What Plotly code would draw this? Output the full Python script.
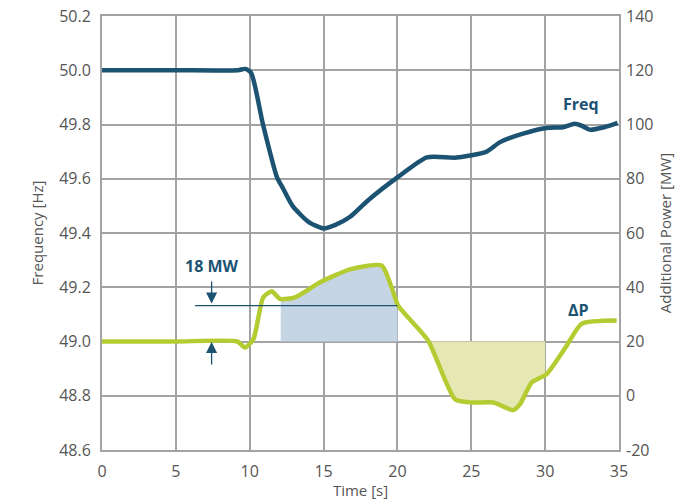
import numpy as np
import plotly.graph_objects as go

# Frequency [Hz]
freq_t = [0, 5, 9.2, 9.7, 10.1, 10.9, 11.85, 12.25, 12.9, 14.0, 15.0, 15.8, 16.8, 18.0, 20.0, 22.0, 24.0, 26.0, 26.95, 28.5, 30.1, 31.2, 32.0, 32.5, 33.0, 34.0, 34.9]
freq_v = [50.0, 50.0, 50.0, 50.005, 49.99, 49.8, 49.605, 49.565, 49.50, 49.44, 49.417, 49.43, 49.46, 49.52, 49.605, 49.679, 49.678, 49.699, 49.735, 49.766, 49.787, 49.79, 49.803, 49.795, 49.781, 49.79, 49.806]

# Additional power [MW]
dp_t = [0, 5, 9.16, 9.68, 10.25, 10.92, 11.49, 12.05, 13.07, 14.76, 16.79, 18.93, 19.6, 20.05, 22.08, 23.9, 25.0, 26.5, 27.84, 28.3, 29.09, 30.1, 31.45, 32.47, 34.84]
dp_v = [20, 20, 20, 17.8, 20.9, 36.3, 38.5, 35.7, 36.3, 41.8, 46.6, 48.0, 40.0, 33.2, 20.3, -1.3, -2.5, -2.5, -5.3, -3.1, 4.9, 8.0, 18.4, 26.5, 27.7]

x_ticks = [0, 5, 10, 15, 20, 25, 30, 35]
y_ticks = [48.6, 48.8, 49.0, 49.2, 49.4, 49.6, 49.8, 50.0, 50.2]
y_tick_labels = ["48.6", "48.8", "49.0", "49.2", "49.4", "49.6", "49.8", "50.0", "50.2"]
y2_ticks = [-20, 0, 20, 40, 60, 80, 100, 120, 140]
y2_tick_labels = ["-20", "0", "20", "40", "60", "80", "100", "120", "140"]

baseline_mw = 20
ref_mw = 33.2
blue_span = [12.1, 20.0]
yellow_span = [22.08, 30.0]

FREQ_C = "#1c5272"
DP_C = "#b5cb32"
GRID_C = "#a3a3a3"
TXT_C = "#555555"
FONT = "Open Sans"

fig = go.Figure()

def region(span):
    xs = [t for t in dp_t if span[0] < t < span[1]]
    xs = [span[0]] + xs + [span[1]]
    ys = list(np.interp(xs, dp_t, dp_v))
    px = [span[0]] + xs + [span[1]]
    py = [baseline_mw] + ys + [baseline_mw]
    return px, py

bx, by = region(blue_span)
fig.add_trace(go.Scatter(x=bx, y=by, yaxis="y2", fill="toself", mode="none",
                         fillcolor="#c5d5e4", hoverinfo="skip", showlegend=False))
yx, yy = region(yellow_span)
fig.add_trace(go.Scatter(x=yx, y=yy, yaxis="y2", fill="toself", mode="none",
                         fillcolor="#e5e8b3", hoverinfo="skip", showlegend=False))

fig.add_trace(go.Scatter(x=freq_t, y=freq_v, mode="lines",
                         line=dict(color=FREQ_C, width=4.5, shape="spline", smoothing=0.6),
                         showlegend=False))
fig.add_trace(go.Scatter(x=dp_t, y=dp_v, yaxis="y2", mode="lines",
                         line=dict(color=DP_C, width=4.5, shape="spline", smoothing=0.6),
                         showlegend=False))

# reference lines
fig.add_shape(type="line", xref="x", yref="y", x0=0, x1=35, y0=50.0, y1=50.0,
              line=dict(color=FREQ_C, width=1.3), layer="below")
fig.add_shape(type="line", xref="x", yref="y2", x0=6.3, x1=20, y0=ref_mw, y1=ref_mw,
              line=dict(color=FREQ_C, width=1.3))

# arrows
fig.add_annotation(x=7.42, y=ref_mw + 0.8, ax=7.42, ay=ref_mw + 9.5, xref="x", yref="y2",
                   axref="x", ayref="y2", showarrow=True, arrowhead=2, arrowsize=1.7,
                   arrowwidth=1.3, arrowcolor=FREQ_C, text="")
fig.add_annotation(x=7.42, y=baseline_mw - 0.2, ax=7.42, ay=baseline_mw - 9.0, xref="x", yref="y2",
                   axref="x", ayref="y2", showarrow=True, arrowhead=2, arrowsize=1.7,
                   arrowwidth=1.3, arrowcolor=FREQ_C, text="")

fig.add_annotation(x=7.42, y=47.8, xref="x", yref="y2", text="<b>18 MW</b>", showarrow=False,
                   font=dict(family=FONT, size=16, color=FREQ_C))
fig.add_annotation(x=32.4, y=49.875, xref="x", yref="y", text="<b>Freq</b>", showarrow=False,
                   font=dict(family=FONT, size=16, color=FREQ_C))
fig.add_annotation(x=32.25, y=31.6, xref="x", yref="y2", text="<b>ΔP</b>", showarrow=False,
                   font=dict(family=FONT, size=16, color=FREQ_C))

tickfont = dict(family=FONT, size=16, color=TXT_C)
titlefont = dict(family=FONT, size=15, color=TXT_C)
axis_common = dict(showgrid=True, gridcolor=GRID_C, gridwidth=1.5, showline=True,
                   linecolor=GRID_C, linewidth=2, zeroline=False, ticks="",
                   tickfont=tickfont, automargin=False, ticklabeloverflow="allow")

fig.update_layout(
    width=700, height=503,
    margin=dict(l=102, r=81, t=16, b=53),
    plot_bgcolor="white", paper_bgcolor="white",
    xaxis=dict(range=[0, 35], tickvals=x_ticks, mirror=True, ticklabelstandoff=6,
               title=dict(text="Time [s]", font=titlefont, standoff=4),
               **axis_common),
    yaxis=dict(range=[48.6, 50.2], tickvals=y_ticks, ticktext=y_tick_labels, mirror=True,
               ticklabelstandoff=6,
               title=dict(text="Frequency [Hz]", font=titlefont, standoff=12),
               **axis_common),
    yaxis2=dict(range=[-20, 140], tickvals=y2_ticks, ticktext=y2_tick_labels,
                overlaying="y", side="right",
                showgrid=False, showline=False, zeroline=False, ticks="",
                tickfont=tickfont, automargin=False, ticklabelstandoff=6,
                ticklabeloverflow="allow",
                title=dict(text="Additional Power [MW]", font=titlefont, standoff=8)),
)

fig.write_html("out.html", config={"displayModeBar": False},
               post_script="document.body.style.margin='0';")
